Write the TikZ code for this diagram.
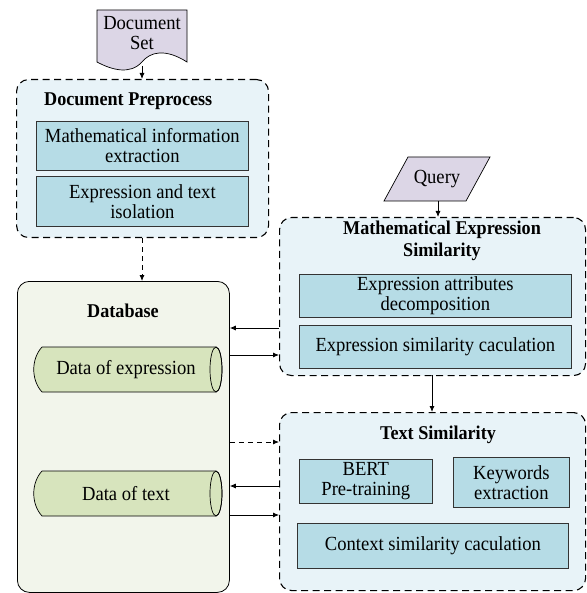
\documentclass[tikz,border=0pt]{standalone}
\usepackage{fontspec}
\setmainfont{Liberation Serif}[FakeStretch=0.93]
\usetikzlibrary{arrows.meta,shapes.geometric}
\definecolor{outerfill}{HTML}{E8F3F8}
\definecolor{innerfill}{HTML}{B6DCE6}
\definecolor{dbfill}{HTML}{F2F5EB}
\definecolor{cylfill}{HTML}{D7E4BD}
\definecolor{inputfill}{HTML}{DCD6E6}
\tikzset{
  outerbox/.style={draw=black, fill=outerfill, line width=1.1pt, dash pattern=on 7pt off 4.5pt, rounded corners=12pt},
  innerbox/.style={draw=black!80, fill=innerfill, line width=0.7pt, align=center, inner sep=0pt, font=\fontsize{20}{20}\selectfont},
  titletext/.style={font=\fontsize{19.5}{21.5}\selectfont\bfseries, align=center, inner sep=0pt},
  plaintext/.style={font=\fontsize{20}{20}\selectfont, align=center, inner sep=0pt},
  arr/.style={-{Latex[length=6pt,width=5pt]}, line width=0.8pt},
  darr/.style={arr, dash pattern=on 5pt off 4pt},
}
\begin{document}
\begin{tikzpicture}[x=1pt,y=-1pt]
\useasboundingbox (0,0) rectangle (586,593);
% Document set
\draw[fill=inputfill, line width=0.7pt] (97,10) -- (187,10) -- (187,62) .. controls (165,48) and (150,52) .. (142,62) .. controls (130,75) and (112,70) .. (97,62) -- cycle;
\node[plaintext] (docset) at (142,33) {Document\\Set};
\coordinate (docbot) at (142,66);
% Document preprocess
\node[outerbox, minimum width=252pt, minimum height=158pt, anchor=north west] (pre) at (16,79) {};
\node[titletext, anchor=west] (pretitle) at (44,101) {Document Preprocess};
\node[innerbox, minimum width=212pt, minimum height=49pt, anchor=north west] (mie) at (36,121) {Mathematical information\\extraction};
\node[innerbox, minimum width=212pt, minimum height=50pt, anchor=north west] (eti) at (36,176) {Expression and text\\isolation};
\draw[arr] (docbot) -- (pre.north -| docbot);
% Database
\node[draw=black, fill=dbfill, line width=0.8pt, rounded corners=12pt, minimum width=212pt, minimum height=311pt, anchor=north west] (db) at (17,281) {};
\node[titletext] (dbtitle) at (123,311) {Database};
% cylinders
\draw[fill=cylfill, line width=0.7pt] (42,347) -- (216,347) arc[start angle=-90, end angle=90, x radius=6, y radius=22.5] -- (42,392) .. controls (31,380) and (31,359) .. (42,347) -- cycle;
\draw[line width=0.7pt] (216,369.5) ellipse[x radius=6, y radius=22.5];
\node[plaintext] (dexp) at (126,369.5) {Data of expression};
\draw[fill=cylfill, line width=0.7pt] (42,471) -- (216,471) arc[start angle=-90, end angle=90, x radius=6, y radius=22.5] -- (42,516) .. controls (31,504) and (31,483) .. (42,471) -- cycle;
\draw[line width=0.7pt] (216,493.5) ellipse[x radius=6, y radius=22.5];
\node[plaintext] (dtxt) at (126,493.5) {Data of text};
\draw[darr] (pre.south -| docbot) -- (db.north -| docbot);
% Query
\draw[fill=inputfill, line width=0.7pt] (408,157) -- (490,157) -- (466,201) -- (384,201) -- cycle;
\node[plaintext] (query) at (437,179) {Query};
\coordinate (qbot) at (438,201);
% Math expression similarity
\node[outerbox, minimum width=306pt, minimum height=158pt, anchor=north west] (mes) at (279,217) {};
\node[titletext] (mestitle) at (442,241) {Mathematical Expression\\Similarity};
\node[innerbox, minimum width=272pt, minimum height=43pt, anchor=north west] (ead) at (299,274) {Expression attributes\\decomposition};
\node[innerbox, minimum width=272pt, minimum height=43pt, anchor=north west] (esc) at (299,325) {Expression similarity caculation};
\draw[arr] (qbot) -- (mes.north -| qbot);
% Text similarity
\node[outerbox, minimum width=306pt, minimum height=178pt, anchor=north west] (ts) at (279,412) {};
\node[titletext] (tstitle) at (438,435) {Text Similarity};
\node[innerbox, minimum width=133pt, minimum height=44pt, anchor=north west] (bert) at (299,459) {BERT\\Pre-training};
\node[innerbox, minimum width=116pt, minimum height=50pt, anchor=north west] (kw) at (453,457) {Keywords\\extraction};
\node[innerbox, minimum width=271pt, minimum height=45pt, anchor=north west] (ctx) at (297,523) {Context similarity caculation};
\coordinate (mesb) at (432,375);
\draw[arr] (mesb) -- (ts.north -| mesb);
% Connections DB <-> MES
\draw[arr] (mes.west |- 0,328) -- (db.east |- 0,328);
\draw[arr] (db.east |- 0,355) -- (mes.west |- 0,355);
% Connections DB <-> TS
\draw[darr] (db.east |- 0,442) -- (ts.west |- 0,442);
\draw[arr] (ts.west |- 0,486) -- (db.east |- 0,486);
\draw[arr] (db.east |- 0,515) -- (ts.west |- 0,515);
\end{tikzpicture}
\end{document}
